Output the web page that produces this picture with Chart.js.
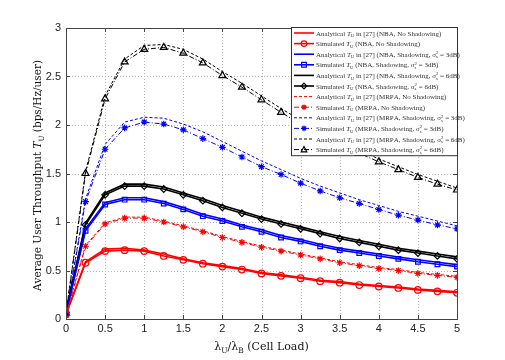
<!DOCTYPE html>
<html>
<head>
<meta charset="utf-8">
<script src="https://cdn.jsdelivr.net/npm/chart.js@4.4.1/dist/chart.umd.min.js"></script>
<style>
  body { margin: 0; background: #fff; }
  canvas { display: block; }
</style>
</head>
<body>
<canvas id="grafico" width="505" height="360"></canvas>
<script>
// === Dados ===
const cellLoad = [0, 0.25, 0.5, 0.75, 1, 1.25, 1.5, 1.75, 2, 2.25, 2.5, 2.75, 3, 3.25, 3.5, 3.75, 4, 4.25, 4.5, 4.75, 5];
const xTickLabels = ['0', '0.5', '1', '1.5', '2', '2.5', '3', '3.5', '4', '4.5', '5'];
const yTickLabels = ['0', '0.5', '1', '1.5', '2', '2.5', '3'];

const anaNbaNoSh = [0.05, 0.59, 0.72, 0.73, 0.71, 0.67, 0.62, 0.58, 0.55, 0.52, 0.48, 0.455, 0.43, 0.40, 0.385, 0.36, 0.345, 0.33, 0.31, 0.295, 0.28];
const simNbaNoSh = [0.05, 0.58, 0.70, 0.71, 0.70, 0.65, 0.61, 0.57, 0.54, 0.51, 0.47, 0.445, 0.42, 0.39, 0.375, 0.35, 0.335, 0.32, 0.30, 0.285, 0.27];
const anaNba3dB = [0.06, 0.93, 1.20, 1.25, 1.25, 1.21, 1.15, 1.08, 1.03, 0.97, 0.92, 0.86, 0.82, 0.77, 0.73, 0.70, 0.67, 0.64, 0.61, 0.585, 0.56];
const simNba3dB = [0.06, 0.91, 1.18, 1.23, 1.23, 1.19, 1.13, 1.06, 1.01, 0.95, 0.90, 0.84, 0.80, 0.75, 0.71, 0.68, 0.65, 0.62, 0.59, 0.565, 0.54];
const anaNba6dB = [0.07, 0.99, 1.30, 1.39, 1.39, 1.36, 1.30, 1.24, 1.17, 1.11, 1.05, 1.00, 0.95, 0.90, 0.85, 0.81, 0.77, 0.73, 0.70, 0.67, 0.64];
const simNba6dB = [0.07, 0.97, 1.28, 1.37, 1.37, 1.34, 1.28, 1.22, 1.15, 1.09, 1.03, 0.98, 0.93, 0.88, 0.83, 0.79, 0.75, 0.71, 0.68, 0.65, 0.62];
const anaMrpaNoSh = [0.04, 0.76, 0.99, 1.05, 1.05, 1.01, 0.96, 0.91, 0.85, 0.80, 0.75, 0.71, 0.67, 0.63, 0.59, 0.56, 0.53, 0.51, 0.48, 0.46, 0.44];
const simMrpaNoSh = [0.04, 0.75, 0.98, 1.04, 1.04, 1.00, 0.95, 0.90, 0.84, 0.79, 0.74, 0.70, 0.66, 0.62, 0.58, 0.55, 0.52, 0.50, 0.47, 0.45, 0.43];
const anaMrpa3dB = [0.05, 1.24, 1.80, 2.03, 2.08, 2.07, 2.01, 1.93, 1.83, 1.73, 1.63, 1.54, 1.45, 1.37, 1.30, 1.23, 1.17, 1.11, 1.06, 1.01, 0.96];
const simMrpa3dB = [0.05, 1.21, 1.75, 1.97, 2.03, 2.01, 1.95, 1.86, 1.77, 1.67, 1.57, 1.49, 1.40, 1.32, 1.25, 1.19, 1.13, 1.07, 1.02, 0.97, 0.93];
const anaMrpa6dB = [0.06, 1.52, 2.30, 2.68, 2.82, 2.83, 2.78, 2.68, 2.55, 2.43, 2.30, 2.17, 2.05, 1.94, 1.84, 1.74, 1.65, 1.57, 1.49, 1.42, 1.35];
const simMrpa6dB = [0.06, 1.50, 2.27, 2.65, 2.78, 2.80, 2.74, 2.64, 2.51, 2.39, 2.26, 2.13, 2.01, 1.90, 1.80, 1.71, 1.62, 1.54, 1.46, 1.39, 1.33];

const SERIF = "'DejaVu Serif', 'Liberation Serif', serif";
const SERIF_LEG = "'Liberation Serif', 'DejaVu Serif', serif";
const TRACO = [5, 2, 1, 2];   // dash-dot
const TRACEJADO = [3, 2];     // dashed

function serie(label, valores, cor, largura, tracos, marcador) {
  return {
    label: label,
    data: valores.map((v, i) => ({ x: cellLoad[i], y: v })),
    borderColor: cor,
    backgroundColor: 'transparent',
    borderWidth: largura,
    borderDash: tracos,
    pointStyle: marcador || 'circle',
    pointRadius: marcador ? (marcador === 'triangle' ? 4 : 3.3) : 0,
    pointBorderWidth: 1.2,
    pointBorderColor: cor,
    pointBackgroundColor: marcador === 'star' && cor === '#ff0000' ? cor : 'transparent',
    fill: false,
    tension: 0
  };
}

const datasets = [
  serie('Analytical *T*_U in [27] (NBA, No Shadowing)', anaNbaNoSh, '#ff0000', 1.6, [], null),
  serie('Simulated *T*_U (NBA, No Shadowing)', simNbaNoSh, '#ff0000', 1.6, [], 'circle'),
  serie('Analytical *T*_U in [27] (NBA, Shadowing, σ_s^2 = 3dB)', anaNba3dB, '#0000ff', 1.6, [], null),
  serie('Simulated *T*_U (NBA, Shadowing, σ_s^2 = 3dB)', simNba3dB, '#0000ff', 1.6, [], 'rect'),
  serie('Analytical *T*_U in [27] (NBA, Shadowing, σ_s^2 = 6dB)', anaNba6dB, '#000000', 1.6, [], null),
  serie('Simulated *T*_U (NBA, Shadowing, σ_s^2 = 6dB)', simNba6dB, '#000000', 1.6, [], 'rectRot'),
  serie('Analytical *T*_U in [27] (MRPA, No Shadowing)', anaMrpaNoSh, '#ff0000', 1, TRACEJADO, null),
  serie('Simulated *T*_U (MRPA, No Shadowing)', simMrpaNoSh, '#ff0000', 1, TRACO, 'star'),
  serie('Analytical *T*_U in [27] (MRPA, Shadowing, σ_s^2 = 3dB)', anaMrpa3dB, '#0000ff', 1, TRACEJADO, null),
  serie('Simulated *T*_U (MRPA, Shadowing, σ_s^2 = 3dB)', simMrpa3dB, '#0000ff', 1, TRACO, 'star'),
  serie('Analytical *T*_U in [27] (MRPA, Shadowing, σ_s^2 = 6dB)', anaMrpa6dB, '#000000', 1, TRACEJADO, null),
  serie('Simulated *T*_U (MRPA, Shadowing, σ_s^2 = 6dB)', simMrpa6dB, '#000000', 1, TRACO, 'triangle')
];

// === Texto com subscrito / sobrescrito (*italico*, _sub, ^sup) ===
function textoRico(ctx, str, x, y, tam, familia, desenhar) {
  let cx = x, i = 0, italico = false;
  while (i < str.length) {
    const c = str[i];
    if (c === '*') { italico = !italico; i++; continue; }
    if (c === '_' || c === '^') {
      let sub = null, sup = null;
      while (i < str.length && (str[i] === '_' || str[i] === '^')) {
        if (str[i] === '_') sub = str[i + 1]; else sup = str[i + 1];
        i += 2;
      }
      const s = tam * 0.68;
      ctx.font = `${s}px ${familia}`;
      let w = 0;
      if (sub) { if (desenhar) ctx.fillText(sub, cx, y + tam * 0.25); w = Math.max(w, ctx.measureText(sub).width); }
      if (sup) { if (desenhar) ctx.fillText(sup, cx, y - tam * 0.4); w = Math.max(w, ctx.measureText(sup).width); }
      cx += w;
      continue;
    }
    ctx.font = `${italico ? 'italic ' : ''}${tam}px ${familia}`;
    if (desenhar) ctx.fillText(c, cx, y);
    cx += ctx.measureText(c).width;
    i++;
  }
  return cx - x;
}

function marcador(ctx, estilo, x, y, r) {
  ctx.beginPath();
  if (estilo === 'circle') {
    ctx.arc(x, y, r, 0, Math.PI * 2);
  } else if (estilo === 'rect') {
    ctx.rect(x - r * 0.85, y - r * 0.85, r * 1.7, r * 1.7);
  } else if (estilo === 'rectRot') {
    ctx.moveTo(x, y - r); ctx.lineTo(x + r, y); ctx.lineTo(x, y + r); ctx.lineTo(x - r, y); ctx.closePath();
  } else if (estilo === 'triangle') {
    ctx.moveTo(x, y - r * 1.1); ctx.lineTo(x + r, y + r * 0.8); ctx.lineTo(x - r, y + r * 0.8); ctx.closePath();
  } else if (estilo === 'star') {
    for (let k = 0; k < 4; k++) {
      const a = k * Math.PI / 4;
      ctx.moveTo(x - r * Math.cos(a), y - r * Math.sin(a));
      ctx.lineTo(x + r * Math.cos(a), y + r * Math.sin(a));
    }
  }
  ctx.stroke();
}

// === Plugin: grade pontilhada, moldura, títulos dos eixos e legenda ===
const moldura = {
  id: 'moldura',
  beforeDatasetsDraw(chart) {
    const ctx = chart.ctx;
    const a = chart.chartArea;
    const sx = chart.scales.x, sy = chart.scales.y;
    ctx.save();
    ctx.strokeStyle = '#b4b4b4';
    ctx.lineWidth = 1;
    ctx.setLineDash([1, 2]);
    ctx.beginPath();
    sx.ticks.forEach(t => {
      const px = Math.round(sx.getPixelForValue(t.value)) + 0.5;
      ctx.moveTo(px, a.top); ctx.lineTo(px, a.bottom);
    });
    sy.ticks.forEach(t => {
      const py = Math.round(sy.getPixelForValue(t.value)) + 0.5;
      ctx.moveTo(a.left, py); ctx.lineTo(a.right, py);
    });
    ctx.stroke();
    ctx.restore();
  },
  afterDraw(chart) {
    const ctx = chart.ctx;
    const a = chart.chartArea;
    const sx = chart.scales.x, sy = chart.scales.y;
    ctx.save();
    ctx.strokeStyle = '#444';
    ctx.lineWidth = 1;
    ctx.setLineDash([]);
    ctx.strokeRect(Math.round(a.left) + 0.5, Math.round(a.top) + 0.5, Math.round(a.right - a.left), Math.round(a.bottom - a.top));
    // pequenos traços internos (estilo MATLAB)
    ctx.beginPath();
    sx.ticks.forEach(t => {
      const px = Math.round(sx.getPixelForValue(t.value)) + 0.5;
      ctx.moveTo(px, a.bottom); ctx.lineTo(px, a.bottom - 4);
      ctx.moveTo(px, a.top); ctx.lineTo(px, a.top + 4);
    });
    sy.ticks.forEach(t => {
      const py = Math.round(sy.getPixelForValue(t.value)) + 0.5;
      ctx.moveTo(a.left, py); ctx.lineTo(a.left + 4, py);
      ctx.moveTo(a.right, py); ctx.lineTo(a.right - 4, py);
    });
    ctx.stroke();

    // títulos dos eixos
    ctx.fillStyle = '#111';
    ctx.textBaseline = 'alphabetic';
    const tituloX = 'λ_U/λ_B (Cell Load)';
    let w = textoRico(ctx, tituloX, 0, 0, 11, SERIF, false);
    textoRico(ctx, tituloX, (a.left + a.right) / 2 - w / 2, 350, 11, SERIF, true);

    const tituloY = 'Average User Throughput *T*_U (bps/Hz/user)';
    ctx.save();
    ctx.translate(41, (a.top + a.bottom) / 2 + 2);
    ctx.rotate(-Math.PI / 2);
    w = textoRico(ctx, tituloY, 0, 0, 10.5, SERIF, false);
    textoRico(ctx, tituloY, -w / 2, 0, 10.5, SERIF, true);
    ctx.restore();

    // legenda
    const lx = 291, ly = 27, lw = Math.round(a.right) - 291, lin = 10.6;
    const lh = lin * chart.data.datasets.length + 1;
    ctx.fillStyle = '#fff';
    ctx.fillRect(lx, ly, lw, lh);
    ctx.strokeStyle = '#333';
    ctx.strokeRect(lx + 0.5, ly + 0.5, lw, lh);
    chart.data.datasets.forEach((ds, i) => {
      const cy = ly + 6 + i * lin;
      ctx.strokeStyle = ds.borderColor;
      ctx.lineWidth = ds.borderWidth;
      ctx.setLineDash(ds.borderDash || []);
      ctx.beginPath();
      ctx.moveTo(lx + 3, cy);
      ctx.lineTo(lx + 23, cy);
      ctx.stroke();
      ctx.setLineDash([]);
      if (ds.pointRadius > 0) {
        ctx.lineWidth = 1.2;
        ctx.fillStyle = ds.pointBackgroundColor;
        marcador(ctx, ds.pointStyle, lx + 13, cy, 2.8);
        if (ds.pointBackgroundColor !== 'transparent') {
          ctx.beginPath(); ctx.arc(lx + 13, cy, 1.6, 0, Math.PI * 2); ctx.fill();
        }
      }
      ctx.fillStyle = '#333';
      textoRico(ctx, ds.label, lx + 25, cy + 2.5, 7, SERIF_LEG, true);
    });
    ctx.restore();
  }
};

const ctx = document.getElementById('grafico').getContext('2d');
const grafico = new Chart(ctx, {
  type: 'line',
  data: { datasets: datasets },
  plugins: [moldura],
  options: {
    responsive: false,
    animation: false,
    layout: { padding: { top: 28, right: 48, left: 0, bottom: 0 } },
    plugins: { legend: { display: false }, tooltip: { enabled: false } },
    scales: {
      x: {
        type: 'linear', min: 0, max: 5,
        afterFit: (s) => { s.height = 41; },
        ticks: {
          stepSize: 0.5, padding: 3, color: '#222',
          font: { family: "'Liberation Sans', Arial, sans-serif", size: 11 },
          callback: (v) => xTickLabels[Math.round(v * 2)]
        },
        grid: { display: false, drawTicks: false },
        border: { display: false }
      },
      y: {
        type: 'linear', min: 0, max: 3,
        afterFit: (s) => { s.width = 66; },
        ticks: {
          stepSize: 0.5, padding: 5, color: '#222',
          font: { family: "'Liberation Sans', Arial, sans-serif", size: 11 },
          callback: (v) => yTickLabels[Math.round(v * 2)]
        },
        grid: { display: false, drawTicks: false },
        border: { display: false }
      }
    }
  }
});
</script>
</body>
</html>
